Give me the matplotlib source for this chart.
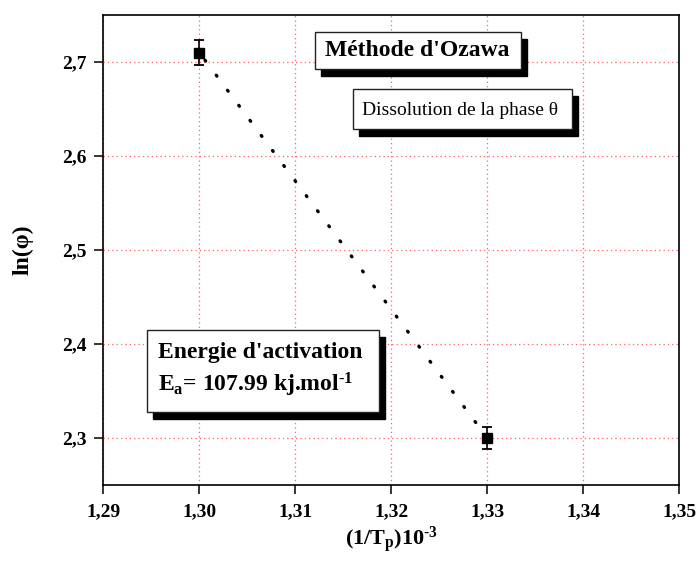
import matplotlib
matplotlib.use("Agg")
import matplotlib.pyplot as plt
import matplotlib.transforms as mtransforms
from matplotlib.patches import Rectangle

# data
inv_tp = [1.30, 1.33]
ln_phi = [2.71, 2.30]
ln_phi_err = [0.013, 0.012]

x_ticks = [1.29, 1.30, 1.31, 1.32, 1.33, 1.34, 1.35]
x_labels = ['1,29', '1,30', '1,31', '1,32', '1,33', '1,34', '1,35']
y_ticks = [2.3, 2.4, 2.5, 2.6, 2.7]
y_labels = ['2,3', '2,4', '2,5', '2,6', '2,7']

plt.rcParams['font.family'] = ['Liberation Serif', 'DejaVu Serif']
plt.rcParams['mathtext.fontset'] = 'custom'
plt.rcParams['mathtext.rm'] = 'Liberation Serif:bold'
plt.rcParams['mathtext.bf'] = 'Liberation Serif:bold'
plt.rcParams['mathtext.it'] = 'Liberation Serif:italic'

fig = plt.figure(figsize=(7, 5.66), dpi=100)
ax = fig.add_axes([0.1476, 0.1431, 0.8229, 0.8304])

# linear fit through the two points, drawn as sparse dots
ax.plot(inv_tp, ln_phi, color='black', linestyle=(2.79, (0.3, 5.34)),
        linewidth=2.4, dash_capstyle='round', zorder=2)
ax.errorbar(inv_tp, ln_phi, yerr=ln_phi_err, fmt='s', color='black',
            markersize=7.4, capsize=3.4, elinewidth=1.2, capthick=1.3, zorder=3)

ax.set_xlim(1.29, 1.35)
ax.set_ylim(2.25, 2.75)
ax.set_xticks(x_ticks)
ax.set_xticklabels(x_labels)
ax.set_yticks(y_ticks)
ax.set_yticklabels(y_labels)
ax.tick_params(direction='out', length=6.3, width=1.1, labelsize=14)
ax.tick_params(axis='x', pad=7)
ax.tick_params(axis='y', pad=6)
for lab in ax.get_xticklabels() + ax.get_yticklabels():
    lab.set_fontweight('bold')
for sp in ax.spines.values():
    sp.set_linewidth(1.2)

ax.grid(True, color='#ff6060', linestyle=(0, (1, 2.5)), linewidth=0.9)

ax.set_xlabel(r'(1/T$_\mathbf{p}$)10$^\mathbf{\text{-}3}$', fontsize=16,
              fontweight='bold', labelpad=3)
ax.set_ylabel('ln(φ)', fontsize=17, fontweight='bold', labelpad=20)

shadow_tr = ax.transAxes + mtransforms.ScaledTranslation(0.06, -0.07, fig.dpi_scale_trans)


def shadow_box(x0, y0, x1, y1):
    ax.add_patch(Rectangle((x0, y0), x1 - x0, y1 - y0, transform=shadow_tr,
                           facecolor='black', edgecolor='black', zorder=4,
                           clip_on=False))
    ax.add_patch(Rectangle((x0, y0), x1 - x0, y1 - y0, transform=ax.transAxes,
                           facecolor='white', edgecolor='#222222', linewidth=1.0,
                           zorder=5, clip_on=False))


shadow_box(0.3675, 0.885, 0.725, 0.9638)
ax.text(0.5455, 0.9245, "Méthode d'Ozawa", transform=ax.transAxes, fontsize=17,
        fontweight='bold', ha='center', va='center', zorder=6)

shadow_box(0.4335, 0.7574, 0.8137, 0.8426)
ax.text(0.619, 0.796, 'Dissolution de la phase θ', transform=ax.transAxes,
        fontsize=14, ha='center', va='center', zorder=6)

shadow_box(0.0753, 0.156, 0.479, 0.3298)
ax.text(0.095, 0.281, "Energie d'activation", transform=ax.transAxes, fontsize=17,
        fontweight='bold', ha='left', va='center', zorder=6)
ax.text(0.095, 0.212, r'E$_\mathbf{a}$= 107.99 kj.mol$^\mathbf{\text{-}1}$',
        transform=ax.transAxes, fontsize=17, fontweight='bold', ha='left',
        va='center', zorder=6)

fig.savefig('out.png', dpi=100)
